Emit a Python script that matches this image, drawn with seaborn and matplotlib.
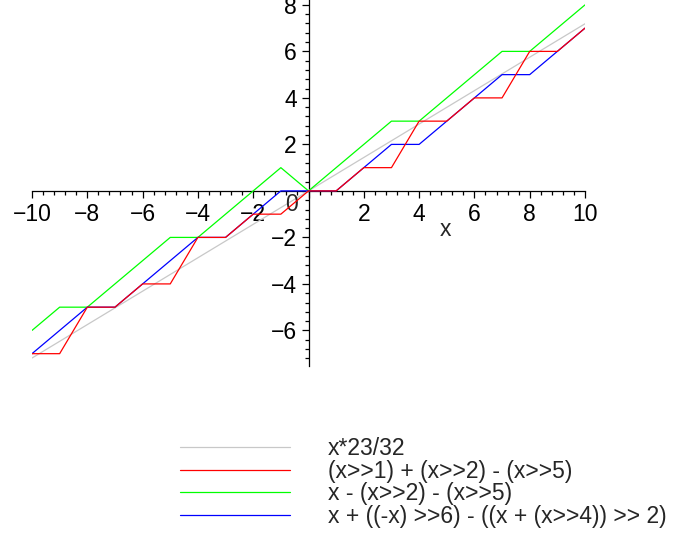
import numpy as np
import pandas as pd
import matplotlib
matplotlib.use('Agg')
import matplotlib.pyplot as plt
from matplotlib.ticker import MultipleLocator, FixedLocator
import seaborn as sns

# values (integer x, shifted results)
x_int = [-10, -9, -8, -7, -6, -5, -4, -3, -2, -1, 0, 1, 2, 3, 4, 5, 6, 7, 8, 9, 10]
red_y = [-7, -7, -5, -5, -4, -4, -2, -2, -1, -1, 0, 0, 1, 1, 3, 3, 4, 4, 6, 6, 7]
green_y = [-6, -5, -5, -4, -3, -2, -2, -1, 0, 1, 0, 1, 2, 3, 3, 4, 5, 6, 6, 7, 8]
blue_y = [-7, -6, -5, -5, -4, -3, -2, -2, -1, 0, 0, 0, 1, 2, 2, 3, 4, 5, 5, 6, 7]
gray_x = [-10, 10]
gray_y = [-7.1875, 7.1875]

labels = ['x*23/32',
          '(x>>1) + (x>>2) - (x>>5)',
          'x - (x>>2) - (x>>5)',
          'x + ((-x) >>6) - ((x + (x>>4)) >> 2)']
colors = ['#c8c8c8', '#ff0000', '#00ff00', '#0000ff']

x_ticks = [-10, -8, -6, -4, -2, 0, 2, 4, 6, 8, 10]
y_ticks = [-6, -4, -2, 0, 2, 4, 6, 8]

df = pd.concat([
    pd.DataFrame({'x': gray_x, 'y': gray_y, 'expr': labels[0]}),
    pd.DataFrame({'x': x_int, 'y': red_y, 'expr': labels[1]}),
    pd.DataFrame({'x': x_int, 'y': green_y, 'expr': labels[2]}),
    pd.DataFrame({'x': x_int, 'y': blue_y, 'expr': labels[3]}),
], ignore_index=True)

sns.set_style('white')
plt.rcParams['font.family'] = ['Liberation Sans', 'DejaVu Sans']

fig = plt.figure(figsize=(6.8, 5.35), dpi=100)
ax = fig.add_axes([32 / 680, 1 - 366 / 535, 553 / 680, 366 / 535])

sns.lineplot(data=df, x='x', y='y', hue='expr', hue_order=labels,
             palette=colors, estimator=None, sort=False, linewidth=0.9,
             ax=ax, zorder=3)
# red drawn over blue where they overlap
ax.lines[1].set_zorder(4)

ax.set_xlim(-10, 10)
ax.set_ylim(-7.53, 8.21)

# maple style axes through the origin
for side in ['top', 'right']:
    ax.spines[side].set_visible(False)
for side in ['left', 'bottom']:
    ax.spines[side].set_position(('data', 0))
    ax.spines[side].set_color('black')
    ax.spines[side].set_linewidth(0.9)
    ax.spines[side].set_zorder(2)

ax.xaxis.set_major_locator(FixedLocator(x_ticks))
ax.yaxis.set_major_locator(FixedLocator(y_ticks))
ax.xaxis.set_minor_locator(MultipleLocator(0.4))
ax.yaxis.set_minor_locator(MultipleLocator(0.4))
ax.set_xticklabels(['' if t == 0 else f'{t}'.replace('-', '\u2212') for t in x_ticks])
ax.set_yticklabels(['' if t == 0 else f'{t}'.replace('-', '\u2212') for t in y_ticks])

ax.tick_params(axis='both', which='both', direction='out', color='black',
               width=0.9, labelsize=16.5, labelcolor='black',
               bottom=True, left=True, top=False, right=False)
ax.tick_params(axis='both', which='major', length=5)
ax.tick_params(axis='both', which='minor', length=3)
ax.tick_params(axis='x', which='major', pad=4)
ax.tick_params(axis='y', which='major', pad=3.5)

ax.text(-0.4, -0.6, '0', ha='right', va='center', fontsize=16.5)
ax.text(4.95, -1.65, 'x', ha='center', va='center', fontsize=16.5)
ax.set_xlabel('')
ax.set_ylabel('')

handles, labs = ax.get_legend_handles_labels()
ax.legend(handles, labs, loc='upper left',
          bbox_to_anchor=(180 / 680, 1 - 437 / 535), bbox_transform=fig.transFigure,
          frameon=False, fontsize=16.5, handlelength=4.8, handletextpad=1.66,
          labelspacing=-0.02, borderpad=0, borderaxespad=0)

fig.savefig('out.png', dpi=100)
